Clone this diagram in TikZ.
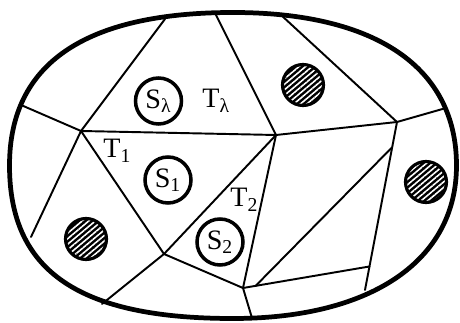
\documentclass[tikz,border=0pt]{standalone}
\usepackage{fontspec}
\setmainfont{Liberation Serif}
\usetikzlibrary{calc,patterns.meta}

\begin{document}
\begin{tikzpicture}[
    x=0.02cm, y=-0.02cm,
    rim/.style={
        line width=2.7pt,
        line join=round
    },
    edge/.style={
        line width=1.1pt,
        line cap=round
    },
    region/.style={
        circle,
        draw,
        line width=2pt,
        minimum size=0.92cm,
        inner sep=0pt,
        font=\fontsize{16}{18}\selectfont
    },
    stone/.style={
        circle,
        draw,
        line width=1.8pt,
        minimum size=0.82cm,
        inner sep=0pt,
        preaction={fill=black},
        pattern={Lines[angle=40,distance=2.4pt,line width=0.9pt]},
        pattern color=white
    },
    tag/.style={
        anchor=base west,
        inner sep=0pt,
        font=\fontsize{16}{18}\selectfont
    }
]
\useasboundingbox (0,0) rectangle (460,323);

% points on the rim
\coordinate (rA) at (165,19);
\coordinate (rB) at (215,13);
\coordinate (rC) at (281,15);
\coordinate (rD) at (446,108);
\coordinate (rE) at (21,105);
\coordinate (rF) at (31,237);
\coordinate (rG) at (102,304);
\coordinate (rH) at (252,318);
\coordinate (rI) at (365,290);

% inner corners
\coordinate (p) at (81,131);
\coordinate (q) at (276,135);
\coordinate (u) at (397,122);
\coordinate (h) at (164,254);
\coordinate (k) at (243,288);
\coordinate (m) at ($(u)!0.86!(rI)$);
\coordinate (km) at ($(k)!0.1!(m)$);
\coordinate (ui) at ($(u)!0.15!(rI)$);

% cell walls
\draw[edge] (rA) -- (p);
\draw[edge] (rE) -- (p);
\draw[edge] (p) -- (rF);
\draw[edge] (p) -- (q);
\draw[edge] (p) -- (h);
\draw[edge] (rB) -- (q);
\draw[edge] (q) -- (u);
\draw[edge] (rC) -- (u);
\draw[edge] (u) -- (rD);
\draw[edge] (u) -- (rI);
\draw[edge] (q) -- (h);
\draw[edge] (q) -- (k);
\draw[edge] (h) -- (rG);
\draw[edge] (h) -- (k);
\draw[edge] (k) -- (rH);
\draw[edge] (k) -- (m);
\draw[edge] (km) -- (ui);

% outer boundary
\draw[rim] (456.5,165.5)
    .. controls (456.5,260.4) and (371.6,318.5) .. (233,318.5)
    .. controls (80,318.5) and (9.5,272) .. (9.5,165.5)
    .. controls (9.5,63.9) and (84.6,12.5) .. (233,12.5)
    .. controls (376,12.5) and (456.5,67.6) .. cycle;

% open sets
\node[region] (sl) at (158.5,101) {S\textsubscript{λ}};
\node[region] (s1) at (168,180) {S\textsubscript{1}};
\node[region] (s2) at (220,242) {S\textsubscript{2}};

% hatched disks
\node[stone] (d1) at (303,85) {};
\node[stone] (d2) at (86,239) {};
\node[stone] (d3) at (426,182) {};

% cell labels
\node[tag] (tl) at (202,108) {T\textsubscript{λ}};
\node[tag] (t1) at (103,158) {T\textsubscript{1}};
\node[tag] (t2) at (230,207) {T\textsubscript{2}};

\end{tikzpicture}
\end{document}
